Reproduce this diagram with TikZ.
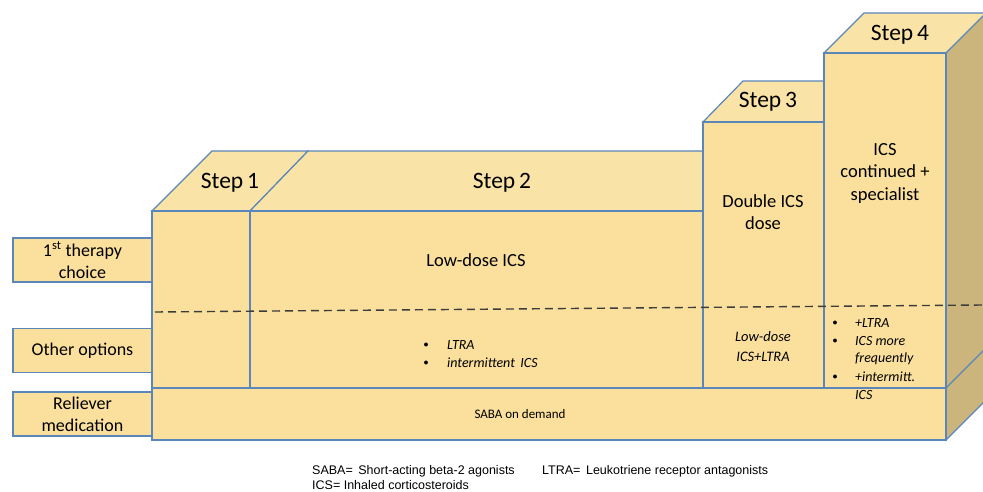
\documentclass[tikz,border=0pt]{standalone}
\usepackage{fontspec}
\setmainfont{Carlito}
\newfontfamily\arialf{Liberation Sans}
\definecolor{facefill}{HTML}{FAE09C}
\definecolor{topfill}{HTML}{FAE3A6}
\definecolor{sidefill}{HTML}{CBB57C}
\definecolor{edgeblue}{HTML}{5A86BA}
\definecolor{dashgrey}{HTML}{3C3C3C}
\tikzset{
  face/.style={fill=facefill, draw=edgeblue, line width=1.2pt, line join=miter},
  topface/.style={fill=topfill, draw=edgeblue, line width=1.2pt},
  sideface/.style={fill=sidefill, draw=edgeblue, line width=1.2pt},
  lblbox/.style={fill=facefill, draw=edgeblue, line width=1.2pt, minimum width=139pt, minimum height=44pt, inner sep=0pt, align=center, font=\fontsize{18}{22}\selectfont},
  steplbl/.style={font=\fontsize{23.5}{26}\selectfont},
  bodytxt/.style={align=center, font=\fontsize{18.5}{22.5}\selectfont},
  itxt/.style={anchor=west, inner sep=0pt, font=\fontsize{14}{16}\selectfont\itshape},
  bul/.style={inner sep=0pt, font=\fontsize{10}{11}\selectfont},
  foot/.style={anchor=west, inner sep=0pt, font=\arialf\fontsize{12.5}{14}\selectfont}
}
\begin{document}
\begin{tikzpicture}[x=1pt, y=-1pt]
\useasboundingbox (0,0) rectangle (983,492);
% top faces
\draw[topface] (152,211) -- (212,151) -- (308,151) -- (250,211) -- cycle;
\draw[topface] (250,211) -- (308,151) -- (703,151) -- (703,211) -- cycle;
\draw[topface] (703,122) -- (743,81) -- (824,81) -- (824,122) -- cycle;
\draw[topface] (824,53) -- (864,13) -- (990,13) -- (946,53) -- cycle;
% right side face
\draw[sideface] (946,53) -- (990,9) -- (990,396) -- (946,440) -- cycle;
\draw[draw=edgeblue, line width=1.2pt] (946,388) -- (990,344);
% front faces
\draw[face] (152,211) rectangle (250,388);
\draw[face] (250,211) rectangle (703,388);
\draw[face] (703,122) rectangle (824,388);
\draw[face] (824,53) rectangle (946,388);
\draw[face] (152,388) rectangle (946,440);
% dashed separator
\coordinate (dashL) at (155,312);
\coordinate (dashR) at (983,305);
\draw[dashgrey, line width=1.4pt, dash pattern=on 8pt off 5pt] (dashL) -- (dashR);
% left label boxes
\node[lblbox] (first) at (82.5,260) {1\textsuperscript{st} therapy\\choice};
\node[lblbox] (other) at (82.5,350.5) {Other options};
\node[lblbox] (reliever) at (82.5,414) {Reliever\\medication};
% step labels
\node[steplbl] (s1) at (230,183) {Step\,1};
\node[steplbl] (s2) at (502,183) {Step\,2};
\node[steplbl] (s3) at (768,102) {Step\,3};
\node[steplbl] (s4) at (900,35) {Step\,4};
% body texts
\node[bodytxt] (lowdose) at (476,260) {Low-dose ICS};
\node[bodytxt] (double) at (763,212) {Double ICS\\dose};
\node[bodytxt] (cont) at (885,173) {ICS\\continued +\\specialist};
% step 2 options
\node[bul] (b21) at (426,345) {$\bullet$};
\node[itxt] (t21) at (447,345) {LTRA};
\node[bul] (b22) at (426,363) {$\bullet$};
\node[itxt] (t22) at (447,363) {intermittent\, ICS};
% step 3 options
\node[align=center, inner sep=0pt, font=\fontsize{14.5}{20}\selectfont\itshape] (s3opt) at (763,347) {Low-dose\\ICS+LTRA};
% step 4 options
\node[bul] (b41) at (835,323) {$\bullet$};
\node[itxt] (t41) at (855,323) {+LTRA};
\node[bul] (b42) at (835,341) {$\bullet$};
\node[itxt] (t42) at (855,341) {ICS more};
\node[itxt] (t43) at (855,359) {frequently};
\node[bul] (b44) at (835,377) {$\bullet$};
\node[itxt] (t44) at (855,377) {+intermitt.};
\node[itxt] (t45) at (855,395) {ICS};
% reliever text
\node[font=\fontsize{13}{15}\selectfont] (saba) at (520,414) {SABA on demand};
% footnote
\node[foot] (f1) at (312,471) {SABA=\, Short-acting beta-2 agonists};
\node[foot] (f2) at (542,471) {LTRA=\, Leukotriene receptor antagonists};
\node[foot] (f3) at (312,485) {ICS= Inhaled corticosteroids};
\end{tikzpicture}
\end{document}
